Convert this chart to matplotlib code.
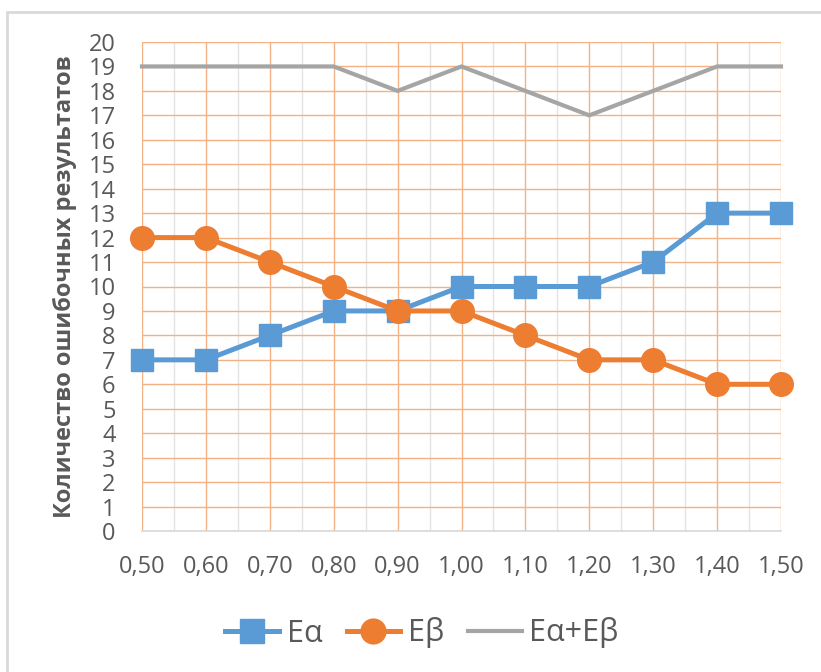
import numpy as np
import matplotlib.pyplot as plt
from matplotlib.patches import Rectangle
from matplotlib.ticker import MultipleLocator, FixedLocator

plt.rcParams['font.family'] = ['Open Sans', 'DejaVu Sans']

x_labels = ['0,50', '0,60', '0,70', '0,80', '0,90', '1,00', '1,10', '1,20', '1,30', '1,40', '1,50']
e_alpha = [7, 7, 8, 9, 9, 10, 10, 10, 11, 13, 13]
e_beta = [12, 12, 11, 10, 9, 9, 8, 7, 7, 6, 6]
e_sum = [19, 19, 19, 19, 18, 19, 18, 17, 18, 19, 19]

txt = '#595959'
blue = '#5B9BD5'
orange = '#ED7D31'
gray = '#A5A5A5'

fig = plt.figure(figsize=(8.21, 6.72), dpi=100)
ax = fig.add_axes([142/821, 1-531/672, (781-142)/821, (531-42)/672])

# frame around the chart like in the document
fig.patches.append(Rectangle((7/821, -0.1), 1.2, 1-12/672+0.1, transform=fig.transFigure,
                             fill=False, edgecolor='#D9D9D9', lw=2))

x = np.arange(len(x_labels))
ax.plot(x, e_sum, color=gray, lw=3, label='Eα+Eβ', zorder=3, clip_on=False)
ax.plot(x, e_alpha, color=blue, lw=3.6, marker='s', ms=16.5, mec=blue, label='Eα',
        zorder=4, clip_on=False)
ax.plot(x, e_beta, color=orange, lw=3.6, marker='o', ms=17, mec=orange, label='Eβ',
        zorder=5, clip_on=False)

ax.set_xlim(0, len(x_labels) - 1)
ax.set_ylim(0, 20)
ax.xaxis.set_major_locator(FixedLocator(x))
ax.set_xticklabels(x_labels)
ax.xaxis.set_minor_locator(FixedLocator(x[:-1] + 0.5))
ax.yaxis.set_major_locator(MultipleLocator(1))

ax.grid(which='major', axis='both', color='#F4B183', lw=1, zorder=0)
ax.grid(which='minor', axis='x', color='#E3E3E3', lw=1, zorder=0)
ax.set_axisbelow(True)

for s in ['top', 'right', 'left']:
    ax.spines[s].set_visible(False)
ax.spines['bottom'].set_color('#D9D9D9')
ax.spines['bottom'].set_linewidth(1.2)

ax.tick_params(which='both', length=0, labelcolor=txt, labelsize=17)
ax.tick_params(axis='x', pad=17)
ax.tick_params(axis='y', pad=19)

ax.set_ylabel('Количество ошибочных результатов', fontsize=17, fontweight='bold',
              color=txt, labelpad=8)

h, l = ax.get_legend_handles_labels()
order = [1, 2, 0]
fig.legend([h[i] for i in order], [l[i] for i in order], loc='center',
           bbox_to_anchor=(422/821, 1-633/672), ncol=3, frameon=False,
           fontsize=22, labelcolor=txt, handlelength=1.75, handletextpad=0.25,
           columnspacing=0.8, markerscale=1.05)

fig.savefig('out.png', dpi=100)
